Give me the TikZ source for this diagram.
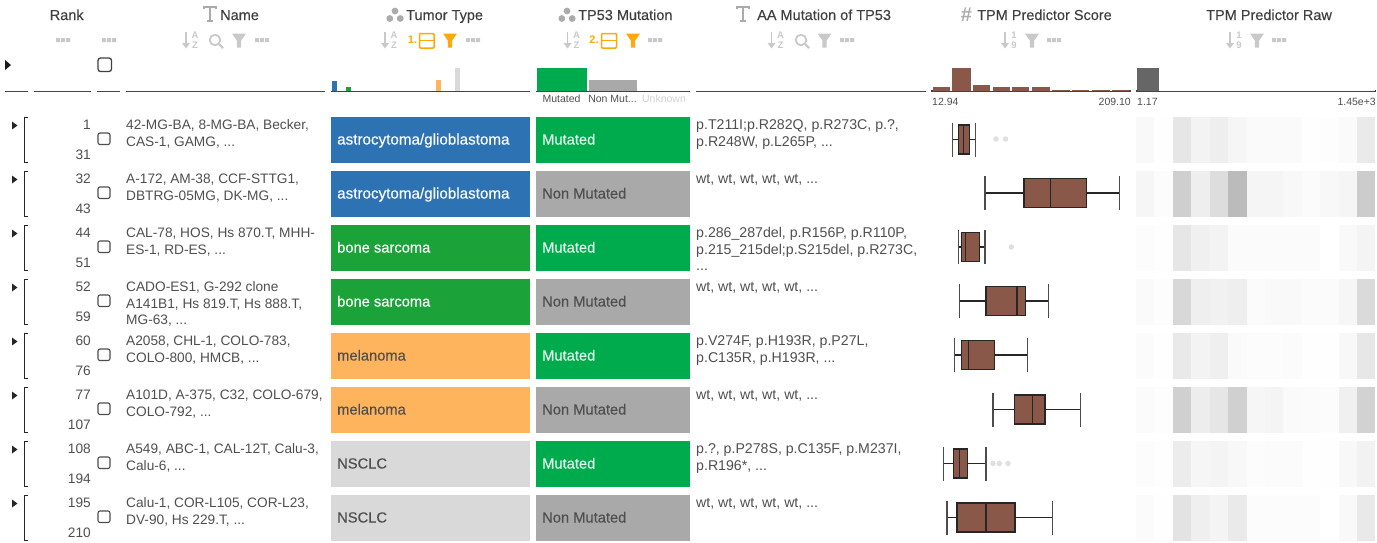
\documentclass[tikz,border=0pt]{standalone}
\usepackage{fontspec}
\setmainfont{Liberation Sans}
\newfontfamily\medfont[FakeBold=0.25]{Liberation Sans}
\definecolor{txt}{HTML}{4F4F4F}
\definecolor{hdr}{HTML}{3F3F3F}
\definecolor{ico}{HTML}{C9C9C9}
\definecolor{icod}{HTML}{ABABAB}
\definecolor{org}{HTML}{FFA809}
\definecolor{brn}{HTML}{8A5849}
\definecolor{cblue}{HTML}{2D73B4}
\definecolor{cgreen}{HTML}{1BA238}
\definecolor{cmut}{HTML}{00AB4E}
\definecolor{cgrey}{HTML}{A9A9A9}
\definecolor{cmel}{HTML}{FDB45C}
\definecolor{cnsc}{HTML}{D9D9D9}
\definecolor{axisc}{HTML}{444444}
\tikzset{
  x=1pt,y=-1pt,
  hlabel/.style={font=\fontsize{14.5}{14.5}\selectfont\medfont,text=hdr,inner sep=0pt,text height=10,text depth=0},
  cell/.style={font=\fontsize{13.7}{13.7}\selectfont,text=txt,inner sep=0pt,anchor=west,text height=10,text depth=0},
  aacell/.style={cell,font=\fontsize{14.15}{14.15}\selectfont},
  fillcell/.style={cell,font=\fontsize{14.7}{14.7}\selectfont\medfont},
  small/.style={font=\fontsize{10.5}{10.5}\selectfont,text=txt,inner sep=0pt,text height=7.5,text depth=0},
  axisline/.style={draw=axisc,line width=1.2pt},
  whisk/.style={draw=black!85,line width=1.1pt},
  boxb/.style={draw=black!85,line width=1.1pt,fill=brn},
  outl/.style={fill=black!12,draw=none},
  lett/.style={text=ico,inner sep=0pt,font=\fontsize{9.5}{9.5}\selectfont\bfseries},
}
\newcommand{\icoT}[2]{%
  \draw[icod,line width=1.3pt] (#1-6,#2-5) -- (#1-6,#2-7) -- (#1+6,#2-7) -- (#1+6,#2-5);
  \draw[icod,line width=1.4pt] (#1,#2-7) -- (#1,#2+7);
  \draw[icod,line width=1.2pt] (#1-3,#2+7) -- (#1+3,#2+7);}
\newcommand{\icoC}[2]{%
  \fill[icod] (#1,#2-4) circle (3.4) (#1-5.2,#2+3.5) circle (3.4) (#1+5.2,#2+3.5) circle (3.4);}
\newcommand{\icoS}[4]{% x y top bottom
  \draw[ico,line width=1.6pt] (#1,#2-8) -- (#1,#2+7);
  \fill[ico] (#1-4,#2+3) -- (#1+4,#2+3) -- (#1,#2+8.5) -- cycle;
  \node[lett] (s#1a) at (#1+9,#2-5) {#3};
  \node[lett] (s#1b) at (#1+9,#2+5) {#4};}
\newcommand{\icoF}[3]{%
  \fill[#3] (#1-7,#2-6.5) -- (#1+7,#2-6.5) -- (#1+2.2,#2+0.5) -- (#1+2.2,#2+7.5) -- (#1-2.2,#2+7.5) -- (#1-2.2,#2+0.5) -- cycle;}
\newcommand{\icoM}[2]{%
  \draw[ico,line width=1.8pt] (#1+4,#2) circle (5.3) ;
  \draw[ico,line width=2.4pt] (#1+8,#2+4) -- (#1+12,#2+8);}
\newcommand{\icoD}[2]{%
  \fill[ico] (#1-7,#2-2) rectangle (#1-3,#2+2) (#1-2,#2-2) rectangle (#1+2,#2+2) (#1+3,#2-2) rectangle (#1+7,#2+2);}
\newcommand{\icoG}[4]{% x1 x2 y text
  \draw[org,line width=1.5pt,rounded corners=1pt] (#1,33.5) rectangle (#2,48);
  \draw[org,line width=1.5pt] (#1,40.7) -- (#2,40.7);
  \node[text=org,inner sep=0pt,font=\fontsize{11}{11}\selectfont\bfseries] (g#4) at (#3,39.5) {#4.};}
\newcommand{\boxp}[6]{% center wl q1 med q3 wr
  \draw[whisk] (#2,#1) -- (#3,#1) (#5,#1) -- (#6,#1);
  \draw[whisk,black!70] (#2,#1-17) -- (#2,#1+17) (#6,#1-17) -- (#6,#1+17);
  \draw[boxb] (#3,#1-14.5) rectangle (#5,#1+14.5);
  \draw[whisk] (#4,#1-14.5) -- (#4,#1+14.5);}
\newcounter{hk}
\newcommand{\heat}[2]{% top, list
  \setcounter{hk}{0}%
  \foreach \g in {#2}{%
    \definecolor{hc}{HTML}{\g\g\g}%
    \pgfmathsetmacro{\hx}{1136+18.42*\value{hk}}%
    \fill[hc] (\hx,#1) rectangle (\hx+18.42,#1+46);%
    \stepcounter{hk}%
  }}
% id top r1 r2 name1 name2 tumour tumourtextcolour
\newcommand{\trow}[8]{%
  \pgfmathsetmacro{\tp}{#2}
  \fill[black!85] (12,\tp+5) -- (17.5,\tp+9) -- (12,\tp+13) -- cycle;
  \draw[black!85,line width=1.1pt] (28,\tp+1) -- (24.5,\tp+1) -- (24.5,\tp+46) -- (28,\tp+46);
  \node[cell,anchor=east] (ra#1) at (91,\tp+8) {#3};
  \node[cell,anchor=east] (rb#1) at (91,\tp+38) {#4};
  \draw[black!70,line width=1.1pt,rounded corners=2pt] (98,\tp+16.5) rectangle (110,\tp+28);
  \node[cell] (na#1) at (126,\tp+8) {#5};
  \node[cell] (nb#1) at (126,\tp+24.5) {#6};
  \node[fillcell,text=#8] (tu#1) at (337,\tp+23) {#7};}
\newcommand{\mcell}[5]{% id top colour textcol label
  \fill[#3] (536,#2) rectangle (690,#2+46);
  \node[fillcell,text=#4] (mu#1) at (542,#2+23) {#5};}
\newcommand{\astro}{\fontsize{15.2}{15.2}\selectfont astrocytoma/glioblastoma}
\begin{document}
\begin{tikzpicture}
\useasboundingbox (0,0) rectangle (1377,542);
% header labels
\node[hlabel] (hrank) at (66.7,15) {Rank};
\icoT{210}{14}
\node[hlabel,anchor=west] (hname) at (220,15) {Name};
\icoC{395}{15}
\node[hlabel,anchor=west] (htum) at (406,15) {Tumor Type};
\icoC{567}{15}
\node[hlabel,anchor=west] (htp) at (578,15) {TP53 Mutation};
\icoT{743}{14}
\node[hlabel,anchor=west] (haa) at (757,15) {AA Mutation of TP53};
\node[text=icod,inner sep=0pt,font=\fontsize{20}{20}\selectfont\bfseries] (hhash) at (966.5,15) {\#};
\node[hlabel,anchor=west] (hsc) at (977,15) {TPM Predictor Score};
\node[hlabel,anchor=west] (hraw) at (1206,15) {TPM Predictor Raw};
% tool icons
\icoD{63}{40}\icoD{109}{40}
\icoS{186}{40}{A}{Z}\icoM{211}{40}\icoF{239}{40}{ico}\icoD{262}{40}
\icoS{385}{40}{A}{Z}\icoG{419.5}{434}{412.5}{1}\icoF{450}{40}{org}\icoD{473}{40}
\icoS{567.5}{40}{A}{Z}\icoG{601.5}{616.5}{594}{2}\icoF{633}{40}{org}\icoD{655}{40}
\icoS{771.5}{40}{A}{Z}\icoM{797}{40}\icoF{824.5}{40}{ico}\icoD{847}{40}
\icoS{1005}{40}{1}{9}\icoF{1032}{40}{ico}\icoD{1054}{40}
\icoS{1230}{40}{1}{9}\icoF{1257}{40}{ico}\icoD{1279}{40}
% header row controls
\fill[black!90] (5,60) -- (11,65) -- (5,70) -- cycle;
\draw[black!75,line width=1.3pt,rounded corners=2.5pt] (98,58) rectangle (111.5,71.5);
% histograms
\fill[cblue] (332,81) rectangle (336.7,91);
\fill[cgreen] (346,86.7) rectangle (350.7,91);
\fill[cmel] (435.7,80) rectangle (440.7,91);
\fill[cnsc] (455,68) rectangle (460,91);
\fill[cmut] (537,68) rectangle (586.7,91);
\fill[cgrey] (588.7,80) rectangle (637,91);
\foreach \a/\b/\t in {932.7/950/86.7,952.3/970.7/68.3,973/990.3/85.3,992.7/1010/86.7,1012/1029.3/86.7,1031.7/1050/86.7,1052.3/1070/90,1072/1089.3/90,1091.7/1110/90,1112/1129.3/90}
  \fill[brn] (\a,\t) rectangle (\b,91.5);
\fill[black!60] (1137.3,68.3) rectangle (1159.3,91.5);
% axis lines
\foreach \a/\b in {5/28,34/91,97/120,126/325,331/530,536/690,696/926}
  \draw[axisline] (\a,91.5) -- (\b,91.5);
\draw[axisline] (932,89.5) -- (932,91.5) -- (1130,91.5) -- (1130,89.5);
\draw[axisline] (1137,89.5) -- (1137,91.5) -- (1375.5,91.5) -- (1375.5,89.5);
\node[small] (lm) at (561.5,99) {Mutated};
\node[small] (ln) at (612.5,99) {Non Mut...};
\node[small,text=black!18] (lu) at (664,99) {Unknown};
\node[small,anchor=west] (la) at (932,101.5) {12.94};
\node[small,anchor=east] (lb) at (1131,101.5) {209.10};
\node[small,anchor=west] (lc) at (1137,101.5) {1.17};
\node[small,anchor=east] (ld) at (1376,101.5) {1.45e+3};
% rows
\foreach \t/\c in {116.5/cblue,170.5/cblue,224.5/cgreen,278.5/cgreen,332.5/cmel,386.5/cmel,440.5/cnsc,494.5/cnsc}
  \fill[\c] (331,\t) rectangle (530,\t+46);
\trow{1}{116.5}{1}{31}{42-MG-BA, 8-MG-BA, Becker,}{CAS-1, GAMG, ...}{\astro}{white}
\trow{2}{170.5}{32}{43}{A-172, AM-38, CCF-STTG1,}{DBTRG-05MG, DK-MG, ...}{\astro}{white}
\trow{3}{224.5}{44}{51}{CAL-78, HOS, Hs 870.T, MHH-}{ES-1, RD-ES, ...}{bone sarcoma}{white}
\trow{4}{278.5}{52}{59}{CADO-ES1, G-292 clone}{A141B1, Hs 819.T, Hs 888.T,}{bone sarcoma}{white}
\node[cell] (nc4) at (126,278.5+41) {MG-63, ...};
\trow{5}{332.5}{60}{76}{A2058, CHL-1, COLO-783,}{COLO-800, HMCB, ...}{melanoma}{txt}
\trow{6}{386.5}{77}{107}{A101D, A-375, C32, COLO-679,}{COLO-792, ...}{melanoma}{txt}
\trow{7}{440.5}{108}{194}{A549, ABC-1, CAL-12T, Calu-3,}{Calu-6, ...}{NSCLC}{txt}
\trow{8}{494.5}{195}{210}{Calu-1, COR-L105, COR-L23,}{DV-90, Hs 229.T, ...}{NSCLC}{txt}
\mcell{1}{116.5}{cmut}{white!90!cmut}{Mutated}
\mcell{2}{170.5}{cgrey}{txt}{Non Mutated}
\mcell{3}{224.5}{cmut}{white!90!cmut}{Mutated}
\mcell{4}{278.5}{cgrey}{txt}{Non Mutated}
\mcell{5}{332.5}{cmut}{white!90!cmut}{Mutated}
\mcell{6}{386.5}{cgrey}{txt}{Non Mutated}
\mcell{7}{440.5}{cmut}{white!90!cmut}{Mutated}
\mcell{8}{494.5}{cgrey}{txt}{Non Mutated}
% AA mutation
\node[aacell] (aa1a) at (696,124.5) {p.T211I;p.R282Q, p.R273C, p.?,};
\node[aacell] (aa1b) at (696,141) {p.R248W, p.L265P, ...};
\node[aacell] (aa2a) at (696,178.5) {wt, wt, wt, wt, wt, ...};
\node[aacell] (aa3a) at (696,232.5) {p.286\_287del, p.R156P, p.R110P,};
\node[aacell] (aa3b) at (696,249) {p.215\_215del;p.S215del, p.R273C,};
\node[aacell] (aa3c) at (696,265.5) {...};
\node[aacell] (aa4a) at (696,286.5) {wt, wt, wt, wt, wt, ...};
\node[aacell] (aa5a) at (696,340.5) {p.V274F, p.H193R, p.P27L,};
\node[aacell] (aa5b) at (696,357) {p.C135R, p.H193R, ...};
\node[aacell] (aa6a) at (696,394.5) {wt, wt, wt, wt, wt, ...};
\node[aacell] (aa7a) at (696,448.5) {p.?, p.P278S, p.C135F, p.M237I,};
\node[aacell] (aa7b) at (696,465) {p.R196*, ...};
\node[aacell] (aa8a) at (696,502.5) {wt, wt, wt, wt, wt, ...};
% box plots
\boxp{139.5}{952.7}{958.3}{963.7}{969.3}{975.7}
\boxp{193}{985}{1024}{1050.7}{1086.3}{1119.3}
\boxp{247}{958.7}{961.7}{965.7}{979.3}{985}
\boxp{301}{959.7}{986}{1017}{1025.3}{1048.3}
\boxp{355}{954.7}{961.7}{968.7}{994.3}{1027.7}
\boxp{409.5}{993}{1014.7}{1032.3}{1045}{1080.3}
\boxp{463.5}{943.7}{953.7}{959.3}{967.7}{986}
\boxp{517.5}{947}{957}{986}{1015}{1052.7}
\fill[outl] (996,139) circle (2.8) (1005.5,139) circle (2.8) (1011.3,247) circle (2.8)
  (993,463.5) circle (2.8) (999.3,463.5) circle (2.8) (1008,463.5) circle (2.8);
% heat maps
\heat{116.5}{F9,FE,E6,F3,EE,F6,FA,FA,FA,FE,FD,FA,EA}
\heat{170.5}{F6,FC,CF,EE,DD,BB,F5,F5,F8,FB,F8,F5,CC}
\heat{224.5}{FC,FE,E6,F0,F3,FB,FB,FB,FB,FB,FF,F9,F4}
\heat{278.5}{FA,FD,D8,EF,F1,EE,FB,F9,F9,FB,FB,F6,DA}
\heat{332.5}{FB,FE,E9,F3,EF,FA,FC,FC,FB,FE,FE,F8,E7}
\heat{386.5}{FB,FD,D0,ED,E6,D0,F6,F4,FA,FB,FC,F0,D2}
\heat{440.5}{FC,FE,EC,F6,F4,F8,FC,FB,FB,FE,FE,F8,F2}
\heat{494.5}{FB,FE,E3,EF,F4,EA,FC,FC,FC,FC,FF,F9,E9}
\end{tikzpicture}
\end{document}
